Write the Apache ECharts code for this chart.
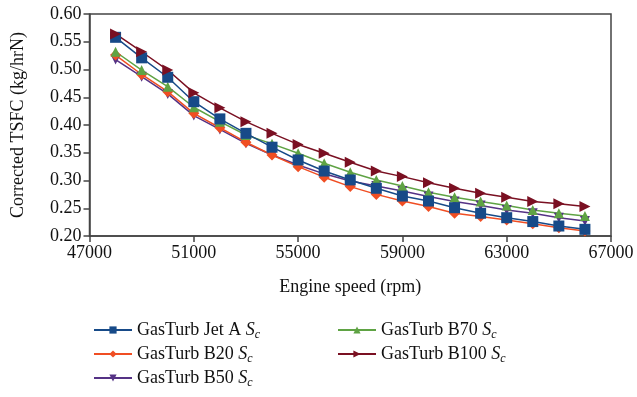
<!DOCTYPE html>
<html>
<head>
<meta charset="utf-8">
<script src="https://cdn.jsdelivr.net/npm/echarts@6/dist/echarts.min.js"></script>
<style>html,body{margin:0;padding:0;background:#fff}#c{width:637px;height:397px}</style>
</head>
<body>
<div id="c"></div>
<script>
var speeds = [48000,49000,50000,51000,52000,53000,54000,55000,56000,57000,58000,59000,60000,61000,62000,63000,64000,65000,66000];
var jetA  = [0.558,0.521,0.486,0.442,0.411,0.385,0.360,0.337,0.317,0.301,0.286,0.272,0.263,0.251,0.241,0.233,0.226,0.218,0.212];
var b20   = [0.526,0.491,0.460,0.421,0.395,0.369,0.346,0.325,0.306,0.289,0.275,0.263,0.253,0.241,0.235,0.229,0.222,0.215,0.209];
var b50   = [0.518,0.487,0.456,0.417,0.392,0.367,0.346,0.328,0.312,0.299,0.290,0.281,0.271,0.262,0.255,0.247,0.241,0.233,0.227];
var b70   = [0.532,0.499,0.469,0.432,0.406,0.382,0.366,0.349,0.331,0.315,0.301,0.290,0.279,0.270,0.262,0.255,0.247,0.241,0.236];
var b100  = [0.564,0.532,0.499,0.458,0.431,0.406,0.385,0.365,0.349,0.333,0.317,0.307,0.296,0.286,0.277,0.270,0.262,0.258,0.253];
var xTicks = [47000,51000,55000,59000,63000,67000];
var yTicks = [0.20,0.25,0.30,0.35,0.40,0.45,0.50,0.55,0.60];

var FONT = '"Liberation Serif", "DejaVu Serif", serif';
function pts(arr){ return speeds.map(function(s,i){ return [s, arr[i]]; }); }
function mk(name, data, color, symbol, size, rot){
  return {
    name: name, type: 'line', data: pts(data),
    symbol: symbol, symbolSize: size, symbolRotate: rot || 0,
    lineStyle: {color: color, width: 1.5},
    itemStyle: {color: color},
    animation: false
  };
}
var chart = echarts.init(document.getElementById('c'));
var rich = {
  n: {fontFamily: FONT, fontSize: 18, color: '#111', lineHeight: 22},
  s: {fontFamily: FONT, fontSize: 18, fontStyle: 'italic', color: '#111', lineHeight: 22},
  c: {fontFamily: FONT, fontSize: 12, fontStyle: 'italic', color: '#111', lineHeight: 22, verticalAlign: 'bottom', padding: [8,0,0,0]}
};
function fmt(name){ return '{n|' + name + ' }{s|S}{c|c}'; }
chart.setOption({
  backgroundColor: '#fff',
  grid: {left: 89.5, right: 26, top: 14, bottom: 161, show: true, borderColor: '#444', borderWidth: 1.5, backgroundColor: 'transparent'},
  xAxis: {
    type: 'value', min: 47000, max: 67000,
    name: 'Engine speed (rpm)', nameLocation: 'middle', nameGap: 42,
    nameTextStyle: {fontFamily: FONT, fontSize: 18, color: '#111'},
    axisLine: {lineStyle: {color: '#444', width: 1.5}},
    axisTick: {show: true, length: 6, lineStyle: {color: '#444', width: 1.5}, customValues: xTicks},
    axisLabel: {fontFamily: FONT, fontSize: 18, color: '#111', margin: 8, customValues: xTicks, formatter: function(v){ return String(v); }},
    splitLine: {show: false}
  },
  yAxis: {
    type: 'value', min: 0.2, max: 0.6,
    name: 'Corrected TSFC (kg/hrN)', nameLocation: 'middle', nameGap: 62,
    nameTextStyle: {fontFamily: FONT, fontSize: 18, color: '#111'},
    axisLine: {show: true, lineStyle: {color: '#444', width: 1.5}},
    axisTick: {show: true, length: 6, lineStyle: {color: '#444', width: 1.5}, customValues: yTicks},
    axisLabel: {fontFamily: FONT, fontSize: 18, color: '#111', margin: 8, customValues: yTicks, formatter: function(v){ return v.toFixed(2); }},
    splitLine: {show: false}
  },
  legend: [
    {data: ['GasTurb Jet A','GasTurb B20','GasTurb B50'], orient: 'vertical', left: 88, top: 316, itemWidth: 38, itemHeight: 9, itemGap: 4, formatter: fmt, textStyle: {rich: rich}},
    {data: ['GasTurb B70','GasTurb B100'], orient: 'vertical', left: 332, top: 316, itemWidth: 38, itemHeight: 9, itemGap: 4, formatter: fmt, textStyle: {rich: rich}}
  ],
  series: [
    mk('GasTurb B50', b50, '#553285', 'triangle', 10, 180),
    mk('GasTurb B20', b20, '#f04e23', 'diamond', 11),
    mk('GasTurb B70', b70, '#5fa344', 'triangle', 10),
    mk('GasTurb Jet A', jetA, '#174a88', 'rect', 11),
    mk('GasTurb B100', b100, '#7a1022', 'triangle', 11, -90)
  ]
});
</script>
</body>
</html>
